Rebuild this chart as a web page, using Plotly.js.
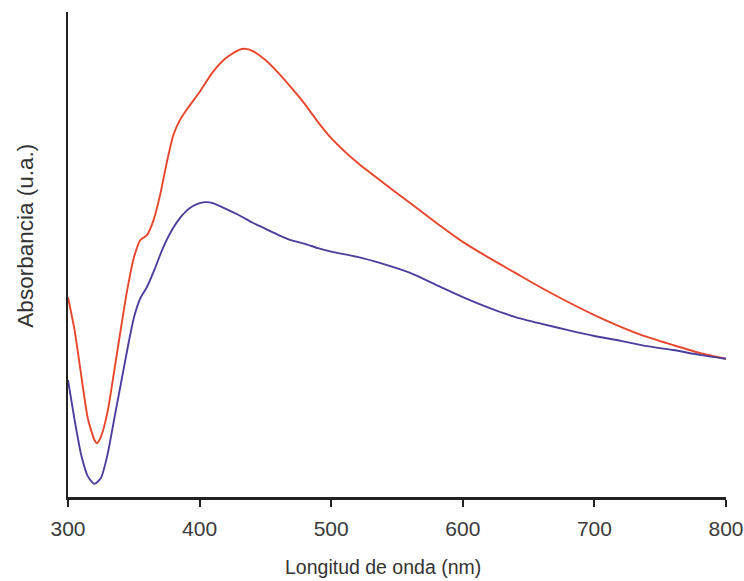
<!DOCTYPE html>
<html>
<head>
<meta charset="utf-8">
<script src="https://cdn.plot.ly/plotly-3.0.1.min.js"></script>
<style>html,body{margin:0;padding:0;background:#fff;}#chart{width:744px;height:581px;}</style>
</head>
<body>
<div id="chart"></div>
<script>
const wavelength = [300,305,310,315,320,322,325,330,335,340,345,350,355,360,365,370,375,380,385,390,400,410,420,430,435,440,450,460,470,480,490,500,520,540,560,580,600,620,640,660,680,700,720,740,760,780,800];
const redAbs = [0.412,0.344,0.252,0.163,0.118,0.111,0.124,0.175,0.258,0.344,0.427,0.493,0.530,0.540,0.571,0.623,0.689,0.746,0.777,0.798,0.835,0.876,0.905,0.922,0.924,0.920,0.901,0.874,0.843,0.810,0.773,0.740,0.689,0.647,0.606,0.565,0.526,0.493,0.462,0.431,0.402,0.375,0.351,0.330,0.313,0.297,0.285];

const wavelengthBlue = [300,305,310,315,320,325,330,335,340,345,350,355,360,365,370,375,380,385,390,395,400,405,410,420,430,440,450,460,470,480,490,500,520,540,560,580,600,620,640,660,680,700,720,740,760,780,800];
const blueAbs = [0.241,0.159,0.087,0.043,0.027,0.039,0.087,0.159,0.231,0.303,0.369,0.410,0.433,0.464,0.499,0.530,0.555,0.575,0.590,0.600,0.606,0.608,0.606,0.594,0.581,0.566,0.553,0.540,0.529,0.522,0.513,0.506,0.495,0.480,0.462,0.437,0.412,0.390,0.371,0.357,0.344,0.332,0.322,0.311,0.303,0.293,0.285];

const xTicks = [300,400,500,600,700,800];

const traces = [
  {x: wavelength, y: redAbs, type: 'scatter', mode: 'lines',
   line: {color: '#e8452c', width: 1.9, shape: 'spline', smoothing: 0.6}, showlegend: false, hoverinfo: 'skip'},
  {x: wavelengthBlue, y: blueAbs, type: 'scatter', mode: 'lines',
   line: {color: '#4b3f9e', width: 1.9, shape: 'spline', smoothing: 0.6}, showlegend: false, hoverinfo: 'skip'}
];

const layout = {
  width: 744, height: 581,
  margin: {l: 68, r: 18, t: 12, b: 84},
  paper_bgcolor: '#ffffff', plot_bgcolor: '#ffffff',
  font: {family: 'Liberation Sans, Arial, sans-serif', color: '#333333'},
  xaxis: {
    range: [300, 800], tickvals: xTicks, ticktext: xTicks.map(String),
    ticks: 'outside', ticklen: 7, tickwidth: 2, tickcolor: '#222222',
    ticklabelstandoff: 4,
    showline: true, linecolor: '#222222', linewidth: 2.5,
    showgrid: false, zeroline: false,
    tickfont: {size: 21, color: '#3a3a3a'}
  },
  yaxis: {
    range: [0, 1], showline: true, linecolor: '#222222', linewidth: 2.5,
    showticklabels: false, ticks: '', showgrid: false, zeroline: false
  },
  annotations: [{
    text: 'Absorbancia (u.a.)', xref: 'paper', yref: 'paper',
    x: -0.066, y: 0.538, xanchor: 'center', yanchor: 'middle', showarrow: false,
    textangle: -90, font: {size: 22.5, color: '#333333'}
  }, {
    text: 'Longitud de onda (nm)', xref: 'paper', yref: 'paper',
    x: 0.478, y: -0.144, xanchor: 'center', yanchor: 'middle', showarrow: false,
    font: {size: 19.5, color: '#333333'}
  }]
};

Plotly.newPlot('chart', traces, layout, {displayModeBar: false, staticPlot: true});
</script>
</body>
</html>
